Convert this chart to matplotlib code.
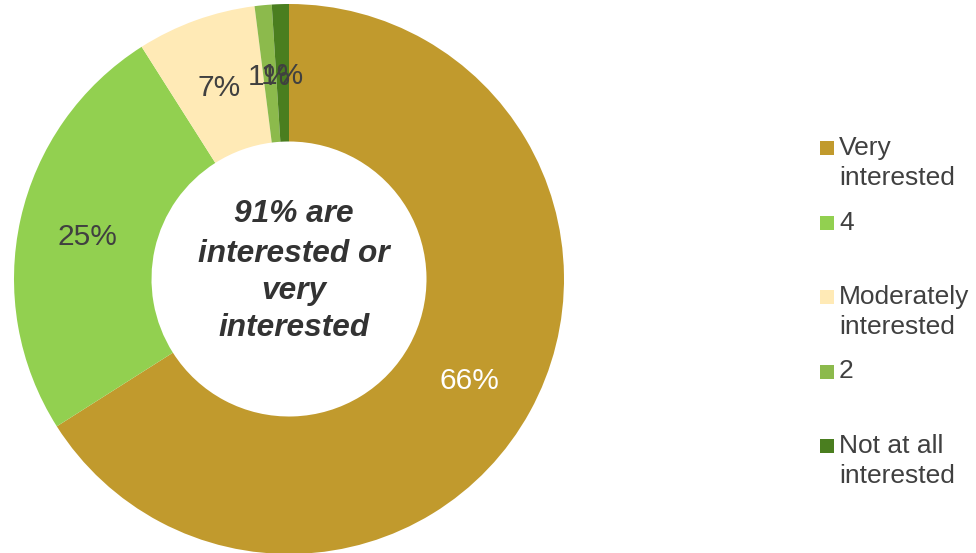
import matplotlib
matplotlib.use("Agg")
import matplotlib.pyplot as plt

plt.rcParams['font.family'] = ['Liberation Sans', 'DejaVu Sans']

categories = ["Very\ninterested", "4", "Moderately\ninterested", "2", "Not at all\ninterested"]
shares = [66, 25, 7, 1, 1]
colors = ["#C19A2D", "#92D050", "#FFEAB6", "#8CBA4C", "#4A7E1F"]
label_colors = ["white", "#404040", "#404040", "#404040", "#404040"]
center_lines = ["91% are", "interested or", "very", "interested"]

W, H = 976, 553
fig = plt.figure(figsize=(W / 100, H / 100), dpi=100)

# pie axes: centre (289, 279) px, radius 275 px
cx, cy, r = 289, 279, 275
ax = fig.add_axes([(cx - r) / W, (H - cy - r) / H, 2 * r / W, 2 * r / H])
wedges, texts = ax.pie(shares, colors=colors, startangle=90, counterclock=False,
                       labels=[f"{v}%" for v in shares], labeldistance=0.75,
                       wedgeprops=dict(width=0.5, linewidth=0),
                       textprops=dict(fontsize=21.5, ha='center', va='center'))
for t, c in zip(texts, label_colors):
    t.set_color(c)
    # nudge labels down a few pixels, like the original
    t.set_y(t.get_position()[1] - 3 / r)
ax.set_xlim(-1, 1)
ax.set_ylim(-1, 1)
ax.set_aspect('equal')
ax.axis('off')

# centre note
baselines = [222.5, 261.5, 298.5, 336.5]
for line, yb in zip(center_lines, baselines):
    fig.text(294 / W, 1 - yb / H, line, ha='center', va='baseline',
             fontsize=22.8, fontweight='bold', fontstyle='italic', color='#333333')

# legend, drawn by hand to mimic the spacing
first_base = 155
step = 74.5
for i, (lab, col) in enumerate(zip(categories, colors)):
    yb = first_base + i * step
    fig.patches.append(plt.Rectangle((820 / W, 1 - yb / H), 13.5 / W, 14 / H,
                                     transform=fig.transFigure, facecolor=col,
                                     edgecolor='none'))
    for j, part in enumerate(lab.split("\n")):
        fig.text(839 / W, 1 - (yb + 30 * j) / H, part, ha='left', va='baseline',
                 fontsize=19, color='#404040')

fig.savefig("out.png", dpi=100)
